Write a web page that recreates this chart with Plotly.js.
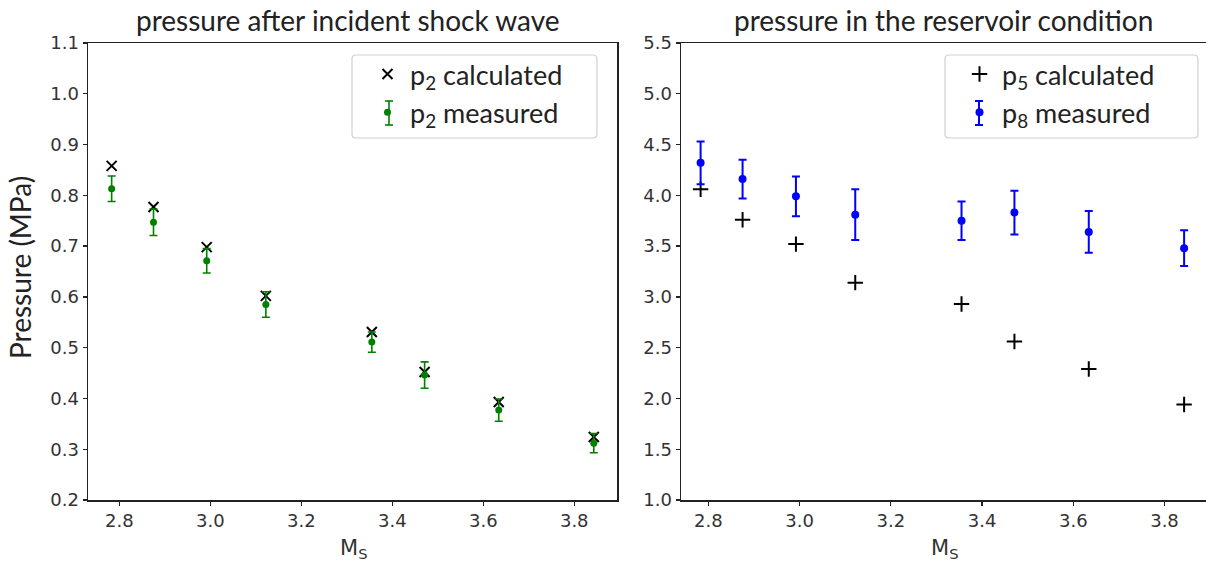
<!DOCTYPE html>
<html>
<head>
<meta charset="utf-8">
<script src="https://cdn.plot.ly/plotly-3.0.1.min.js"></script>
<style>html,body{margin:0;padding:0;background:#fff;}#chart{width:1206px;height:567px;}</style>
</head>
<body>
<div id="chart"></div>
<script>
// Shock Mach number
const machNumbers = [2.783, 2.875, 2.992, 3.122, 3.355, 3.471, 3.634, 3.843];
// Left panel: pressure after incident shock wave (MPa)
const p2Calculated = [0.858, 0.777, 0.698, 0.602, 0.531, 0.452, 0.393, 0.324];
const p2Measured = [0.813, 0.747, 0.671, 0.585, 0.511, 0.446, 0.377, 0.312];
const p2Error = [0.025, 0.026, 0.024, 0.025, 0.02, 0.026, 0.022, 0.019];
// Right panel: pressure in the reservoir condition (MPa)
const p5Calculated = [4.06, 3.76, 3.52, 3.14, 2.93, 2.56, 2.29, 1.94];
const p8Measured = [4.32, 4.16, 3.99, 3.81, 3.75, 3.83, 3.64, 3.48];
const p8Error = [0.21, 0.19, 0.195, 0.25, 0.19, 0.215, 0.205, 0.175];

const leftTicks = [0.2,0.3,0.4,0.5,0.6,0.7,0.8,0.9,1.0,1.1];
const rightTicks = [1.0,1.5,2.0,2.5,3.0,3.5,4.0,4.5,5.0,5.5];
const xTicks = [2.8,3.0,3.2,3.4,3.6,3.8];

const tickFont = {family: 'DejaVu Sans, sans-serif', size: 18, color: '#333'};
const textFont = 'Lato, "Open Sans", sans-serif';

const traces = [
  {x: machNumbers, y: p2Calculated, type: 'scatter', mode: 'markers', name: 'p<sub>2</sub> calculated',
   marker: {symbol: 'x-thin', size: 10, color: '#000', line: {width: 2, color: '#000'}},
   xaxis: 'x', yaxis: 'y', legend: 'legend', legendgroup: 'a'},
  {x: machNumbers, y: p2Measured, type: 'scatter', mode: 'markers', name: 'p<sub>2</sub> measured',
   marker: {symbol: 'circle', size: 7, color: '#008000'},
   error_y: {type: 'data', array: p2Error, visible: true, color: '#008000', thickness: 1.6, width: 4},
   xaxis: 'x', yaxis: 'y', legend: 'legend', legendgroup: 'b'},
  {x: machNumbers, y: p5Calculated, type: 'scatter', mode: 'markers', name: 'p<sub>5</sub> calculated',
   marker: {symbol: 'cross-thin', size: 11, color: '#000', line: {width: 2, color: '#000'}},
   xaxis: 'x2', yaxis: 'y2', legend: 'legend2', legendgroup: 'c'},
  {x: machNumbers, y: p8Measured, type: 'scatter', mode: 'markers', name: 'p<sub>8</sub> measured',
   marker: {symbol: 'circle', size: 8, color: '#0000ff'},
   error_y: {type: 'data', array: p8Error, visible: true, color: '#0000ff', thickness: 2, width: 4},
   xaxis: 'x2', yaxis: 'y2', legend: 'legend2', legendgroup: 'd'}
];

const W = 1118; // plot area width in px (1206 - 88)
const H = 457;  // plot area height in px
const L = 88, T = 43;
function px(x) { return (x - L) / W; }
function py(y) { return (T + H - y) / H; }

const axisCommon = {showline: true, linecolor: '#222', linewidth: 1.5, mirror: true, ticks: 'outside',
  ticklen: 4, tickwidth: 1.3, tickcolor: '#222', showgrid: false, zeroline: false, tickfont: tickFont, tickformat: '.1f'};

const legendCommon = {xanchor: 'left', yanchor: 'top', bgcolor: 'rgba(0,0,0,0)', borderwidth: 0,
  font: {family: textFont, size: 27, color: '#222'}, traceorder: 'grouped', tracegroupgap: 0, itemwidth: 35};

function roundRect(x0, y0, x1, y1) {
  const rx = 4/W, ry = 4/H;
  return `M${x0+rx},${y0} L${x1-rx},${y0} Q${x1},${y0} ${x1},${y0+ry} L${x1},${y1-ry} Q${x1},${y1} ${x1-rx},${y1} ` +
         `L${x0+rx},${y1} Q${x0},${y1} ${x0},${y1-ry} L${x0},${y0+ry} Q${x0},${y0} ${x0+rx},${y0} Z`;
}
function errIcon(cx, cy, color, w) {
  const s = {type: 'line', xref: 'paper', yref: 'paper', layer: 'above', line: {color: color, width: w}};
  return [
    Object.assign({}, s, {x0: px(cx), x1: px(cx), y0: py(cy - 12), y1: py(cy + 12)}),
    Object.assign({}, s, {x0: px(cx - 4), x1: px(cx + 4), y0: py(cy - 12), y1: py(cy - 12)}),
    Object.assign({}, s, {x0: px(cx - 4), x1: px(cx + 4), y0: py(cy + 12), y1: py(cy + 12)})
  ];
}

const layout = {
  width: 1206, height: 567,
  margin: {l: L, r: 0, t: T, b: 567 - T - H},
  paper_bgcolor: '#fff', plot_bgcolor: '#fff',
  showlegend: true,
  xaxis: Object.assign({}, axisCommon, {domain: [0, 529/W], range: [2.731, 3.894], tickvals: xTicks, anchor: 'y'}),
  yaxis: Object.assign({}, axisCommon, {range: [0.2, 1.1], tickvals: leftTicks, anchor: 'x'}),
  xaxis2: Object.assign({}, axisCommon, {domain: [593/W, 1], range: [2.740, 3.891], tickvals: xTicks, anchor: 'y2'}),
  yaxis2: Object.assign({}, axisCommon, {range: [1.0, 5.5], tickvals: rightTicks, anchor: 'x2'}),
  legend: Object.assign({}, legendCommon, {x: px(365), y: py(50)}),
  legend2: Object.assign({}, legendCommon, {x: px(957), y: py(50)}),
  shapes: [
    {type: 'path', xref: 'paper', yref: 'paper', layer: 'above',
     path: roundRect(px(352), py(138), px(597), py(55)), line: {color: '#d0d0d0', width: 1.2}},
    {type: 'path', xref: 'paper', yref: 'paper', layer: 'above',
     path: roundRect(px(945), py(138), px(1198), py(55)), line: {color: '#d0d0d0', width: 1.2}}
  ].concat(errIcon(389, 113, '#008000', 1.6), errIcon(979, 113, '#0000ff', 2)),
  annotations: [
    {text: 'pressure after incident shock wave', xref: 'paper', yref: 'paper', x: px(348), y: 1, xanchor: 'center', yanchor: 'bottom', yshift: 4,
     showarrow: false, font: {family: textFont, size: 28, color: '#222'}},
    {text: 'pressure in the reservoir condition', xref: 'paper', yref: 'paper', x: px(943), y: 1, xanchor: 'center', yanchor: 'bottom', yshift: 4,
     showarrow: false, font: {family: textFont, size: 28, color: '#222'}},
    {text: 'Pressure (MPa)', xref: 'paper', yref: 'paper', x: px(20), y: py(268), textangle: -90, xanchor: 'center', yanchor: 'middle',
     showarrow: false, font: {family: textFont, size: 28, color: '#222'}},
    {text: 'M<sub>S</sub>', xref: 'paper', yref: 'paper', x: px(353), y: 0, xanchor: 'center', yanchor: 'top', yshift: -34,
     showarrow: false, font: {family: 'DejaVu Sans, sans-serif', size: 21, color: '#333'}},
    {text: 'M<sub>S</sub>', xref: 'paper', yref: 'paper', x: px(944), y: 0, xanchor: 'center', yanchor: 'top', yshift: -34,
     showarrow: false, font: {family: 'DejaVu Sans, sans-serif', size: 21, color: '#333'}}
  ]
};

Plotly.newPlot('chart', traces, layout, {displayModeBar: false, staticPlot: true});
</script>
</body>
</html>
